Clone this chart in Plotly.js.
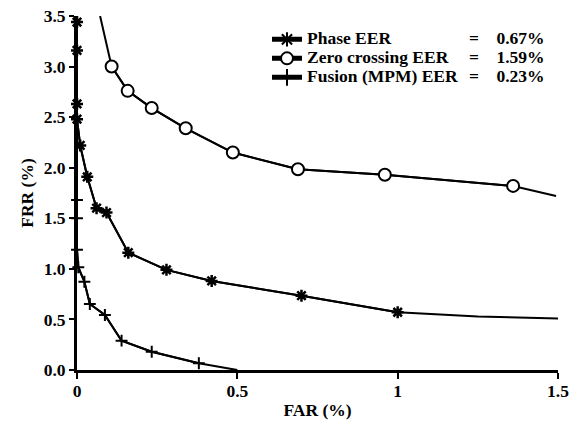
<!DOCTYPE html>
<html>
<head>
<meta charset="utf-8">
<script src="https://cdn.plot.ly/plotly-3.0.1.min.js"></script>
<style>html,body{margin:0;padding:0;background:#fff;}#chart{width:575px;height:422px;}</style>
</head>
<body>
<div id="chart"></div>
<script>
// ---- data ----
const seriesNames = ['Phase EER', 'Zero crossing EER', 'Fusion (MPM) EER'];
const eerLabels = ['=    0.67%', '=    1.59%', '=    0.23%'];

// Phase: marked points, then unmarked continuation
const phaseFAR = [0, 0, 0, 0, 0.01, 0.032, 0.061, 0.092, 0.16, 0.279, 0.42, 0.70, 1.0];
const phaseFRR = [3.44, 3.16, 2.63, 2.48, 2.22, 1.91, 1.60, 1.556, 1.16, 0.99, 0.88, 0.735, 0.571];
const phaseTailFAR = [1.25, 1.5];
const phaseTailFRR = [0.53, 0.51];

// Zero crossing: unmarked start, marked points, unmarked end
const zcHeadFAR = [0.072];
const zcHeadFRR = [3.5];
const zcFAR = [0.108, 0.158, 0.233, 0.339, 0.486, 0.689, 0.96, 1.36];
const zcFRR = [3.0, 2.76, 2.59, 2.39, 2.15, 1.985, 1.93, 1.82];
const zcTailFAR = [1.494];
const zcTailFRR = [1.72];

// Fusion (MPM): unmarked start, marked points, unmarked end
const fusHeadFAR = [0];
const fusHeadFRR = [3.5];
const fusFAR = [0, 0, 0, 0.004, 0.023, 0.040, 0.087, 0.139, 0.233, 0.38];
const fusFRR = [1.68, 1.5, 1.19, 1.016, 0.873, 0.653, 0.544, 0.29, 0.18, 0.066];
const fusTailFAR = [0.5];
const fusTailFRR = [0];

const yTicks = [0, 0.5, 1, 1.5, 2, 2.5, 3, 3.5];
const xTicks = [0, 0.5, 1, 1.5];
const xTickText = ['0', '0.5', '1', '1.5'];

// ---- styling ----
const FONT = '"Liberation Serif", "Times New Roman", serif';
const BIG = 17.5;
const lineStyle = {color: '#000', width: 2};

function nameSpan(s) {
  return '<span style="font-size:' + BIG + 'px">' + s + '</span>';
}

const traces = [
  {x: phaseFAR.concat(phaseTailFAR), y: phaseFRR.concat(phaseTailFRR), mode: 'lines',
   line: lineStyle, showlegend: false, hoverinfo: 'skip', cliponaxis: false},
  {x: zcHeadFAR.concat(zcFAR, zcTailFAR), y: zcHeadFRR.concat(zcFRR, zcTailFRR), mode: 'lines',
   line: lineStyle, showlegend: false, hoverinfo: 'skip', cliponaxis: false},
  {x: fusHeadFAR.concat(fusFAR, fusTailFAR), y: fusHeadFRR.concat(fusFRR, fusTailFRR), mode: 'lines',
   line: lineStyle, showlegend: false, hoverinfo: 'skip', cliponaxis: false},
  {x: phaseFAR, y: phaseFRR, mode: 'lines+markers', name: nameSpan(seriesNames[0]),
   line: lineStyle, cliponaxis: false,
   marker: {symbol: 'asterisk-open', size: 10, color: '#000', line: {color: '#000', width: 2.5}}},
  {x: zcFAR, y: zcFRR, mode: 'lines+markers', name: nameSpan(seriesNames[1]),
   line: lineStyle, cliponaxis: false,
   marker: {symbol: 'circle', size: 12, color: '#fff', line: {color: '#000', width: 2}}},
  {x: fusFAR, y: fusFRR, mode: 'lines+markers', name: nameSpan(seriesNames[2]),
   line: lineStyle, cliponaxis: false,
   marker: {symbol: 'cross-thin-open', size: 8.5, color: '#000', line: {color: '#000', width: 2}}}
];

const rowY = [0.938, 0.884, 0.830];
const annotations = eerLabels.map((t, i) => ({
  text: t, xref: 'paper', yref: 'paper', x: 0.977, y: rowY[i],
  xanchor: 'right', yanchor: 'middle', showarrow: false,
  font: {family: FONT, size: BIG, color: '#000', weight: 'bold'}
}));

const layout = {
  width: 575, height: 422,
  margin: {l: 77, r: 17, t: 16, b: 52},
  paper_bgcolor: '#fff', plot_bgcolor: '#fff',
  font: {family: FONT, size: BIG, color: '#000', weight: 'bold'},
  showlegend: true,
  legend: {
    x: 0.395, y: 0.975, xanchor: 'left', yanchor: 'top',
    bgcolor: 'rgba(0,0,0,0)', borderwidth: 0, itemsizing: 'constant',
    font: {family: FONT, size: 12, color: '#000', weight: 'bold'},
    traceorder: 'normal'
  },
  xaxis: {
    range: [0, 1.5], tickvals: xTicks, ticktext: xTickText,
    showgrid: false, zeroline: false, showline: true, linecolor: '#000', linewidth: 3,
    ticks: 'outside', ticklen: 6, tickwidth: 2, tickcolor: '#000',
    ticklabelstandoff: -3,
    tickfont: {family: FONT, size: BIG, color: '#000', weight: 'bold'},
    title: {text: 'FAR (%)', font: {family: FONT, size: BIG, color: '#000', weight: 'bold'}, standoff: 4},
    fixedrange: true
  },
  yaxis: {
    range: [0, 3.5], tickvals: yTicks, tickformat: '.1f',
    showgrid: false, zeroline: false, showline: true, linecolor: '#000', linewidth: 3,
    ticks: 'outside', ticklen: 5, tickwidth: 2, tickcolor: '#000',
    tickfont: {family: FONT, size: BIG, color: '#000', weight: 'bold'},
    title: {text: 'FRR (%)', font: {family: FONT, size: BIG, color: '#000', weight: 'bold'}, standoff: 6},
    fixedrange: true
  },
  annotations: annotations
};

Plotly.newPlot('chart', traces, layout, {displayModeBar: false, staticPlot: true});
</script>
</body>
</html>
